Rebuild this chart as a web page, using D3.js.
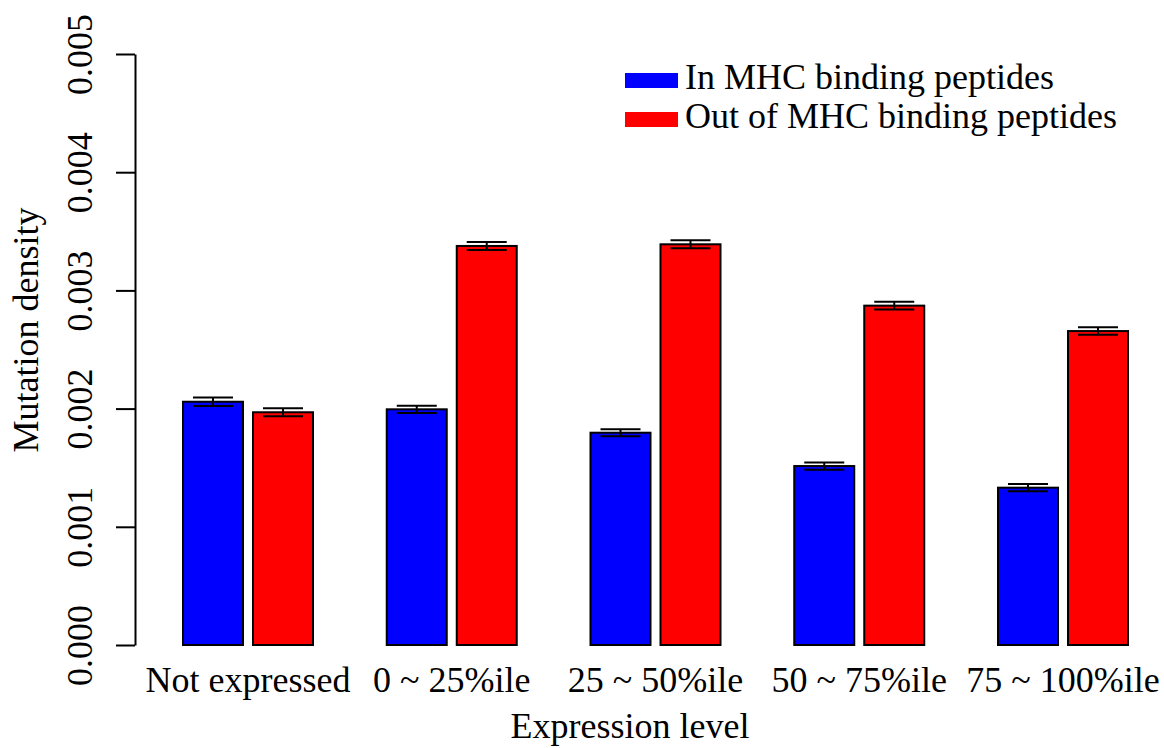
<!DOCTYPE html>
<html>
<head>
<meta charset="utf-8">
<script src="https://cdnjs.cloudflare.com/ajax/libs/d3/7.8.5/d3.min.js"></script>
<style>
  body { margin: 0; background: #fff; }
  svg, svg text { font-family: "Liberation Serif", "Times New Roman", Times, serif; fill: #000; }
</style>
</head>
<body>
<div id="main"></div>
<script>
// ---------------- data -----------------//

let groups = ['Not expressed', '0 ~ 25%ile', '25 ~ 50%ile', '50 ~ 75%ile', '75 ~ 100%ile']
let seriesNames = ['In MHC binding peptides', 'Out of MHC binding peptides']
let seriesColors = ['#0000ff', '#ff0000']

let inValues = [0.002058, 0.001994, 0.001796, 0.001514, 0.001331]
let inErrors = [0.000036, 0.000031, 0.000030, 0.000031, 0.000031]
let outValues = [0.001969, 0.003376, 0.003390, 0.002871, 0.002656]
let outErrors = [0.000034, 0.000034, 0.000034, 0.000032, 0.000032]

let yTicks = [0, 0.001, 0.002, 0.003, 0.004, 0.005]

// ---------------- global formatting vars -----------------//

let width = 1164;
let height = 748;
let fontStack = '"Liberation Serif", "Times New Roman", Times, serif';

let svg = d3.select("#main")
  .append("svg")
  .attr("width", width)
  .attr("height", height)
  .style("font-family", fontStack)

let yScale = d3.scaleLinear()
  .domain([0, 0.005])
  .range([645, 54]);

let groupScale = d3.scaleBand()
  .domain(groups)
  .range([183, 1128])
  .paddingInner(0.362)
  .paddingOuter(0);

let barScale = d3.scaleBand()
  .domain([0, 1])
  .range([0, groupScale.bandwidth()])
  .paddingInner(0.143)
  .paddingOuter(0);

// flatten into one row per bar
let bars = [];
for (let i = 0; i < groups.length; i++) {
  bars.push({group: groups[i], s: 0, value: inValues[i], err: inErrors[i]});
  bars.push({group: groups[i], s: 1, value: outValues[i], err: outErrors[i]});
}

// ---------------- bars -----------------//

svg.selectAll(".bar")
  .data(bars)
  .enter()
  .append("rect")
  .attr("class", "bar")
  .attr("x", d => groupScale(d.group) + barScale(d.s))
  .attr("y", d => yScale(d.value))
  .attr("width", barScale.bandwidth())
  .attr("height", d => yScale(0) - yScale(d.value))
  .attr("fill", d => seriesColors[d.s])
  .attr("stroke", "#000")
  .attr("stroke-width", 2)

// error bars
let capHalf = 20;
let err = svg.selectAll(".err")
  .data(bars)
  .enter()
  .append("g")
  .attr("class", "err")
  .attr("transform", d => `translate(${groupScale(d.group) + barScale(d.s) + barScale.bandwidth() / 2}, 0)`)
  .attr("stroke", "#000")
  .attr("stroke-width", 2)

err.append("line")
  .attr("x1", 0).attr("x2", 0)
  .attr("y1", d => yScale(d.value - d.err))
  .attr("y2", d => yScale(d.value + d.err))
err.append("line")
  .attr("x1", -capHalf).attr("x2", capHalf)
  .attr("y1", d => yScale(d.value + d.err))
  .attr("y2", d => yScale(d.value + d.err))
err.append("line")
  .attr("x1", -capHalf).attr("x2", capHalf)
  .attr("y1", d => yScale(d.value - d.err))
  .attr("y2", d => yScale(d.value - d.err))

// ---------------- axes -----------------//

let yAxis = d3.axisLeft(yScale)
  .tickValues(yTicks)
  .tickFormat(d3.format(".3f"))
  .tickSize(19)
  .tickSizeOuter(0);

let yAxisG = svg.append("g")
  .attr("transform", `translate(${135}, 0)`)
  .call(yAxis)
  .attr("font-family", null)
  .attr("font-size", null)

yAxisG.select(".domain").attr("stroke", "#000").attr("stroke-width", 2)
yAxisG.selectAll(".tick line").attr("stroke", "#000").attr("stroke-width", 2)
yAxisG.selectAll(".tick text")
  .attr("x", null).attr("dy", null)
  .attr("transform", "translate(-43, 0) rotate(-90)")
  .attr("text-anchor", "middle")
  .style("font-size", "36px")

// x category labels, no axis line
svg.selectAll(".xlabel")
  .data(groups)
  .enter()
  .append("text")
  .attr("class", "xlabel")
  .attr("x", d => groupScale(d) + groupScale.bandwidth() / 2)
  .attr("y", 692)
  .attr("text-anchor", "middle")
  .style("font-size", "36px")
  .text(d => d)

svg.append("text")
  .attr("x", 630)
  .attr("y", 738)
  .attr("text-anchor", "middle")
  .style("font-size", "36px")
  .text("Expression level")

svg.append("text")
  .attr("transform", `translate(${38}, ${330}) rotate(-90)`)
  .attr("text-anchor", "middle")
  .style("font-size", "36px")
  .text("Mutation density")

// ---------------- legend -----------------//

let legend = svg.selectAll(".legend")
  .data(seriesNames)
  .enter()
  .append("g")
  .attr("class", "legend")
  .attr("transform", (d, i) => `translate(${625}, ${73 + i * 39})`)

legend.append("rect")
  .attr("width", 53)
  .attr("height", 15)
  .attr("fill", (d, i) => seriesColors[i])

legend.append("text")
  .attr("x", 60)
  .attr("y", 16)
  .style("font-size", "36px")
  .text(d => d)
</script>
</body>
</html>
